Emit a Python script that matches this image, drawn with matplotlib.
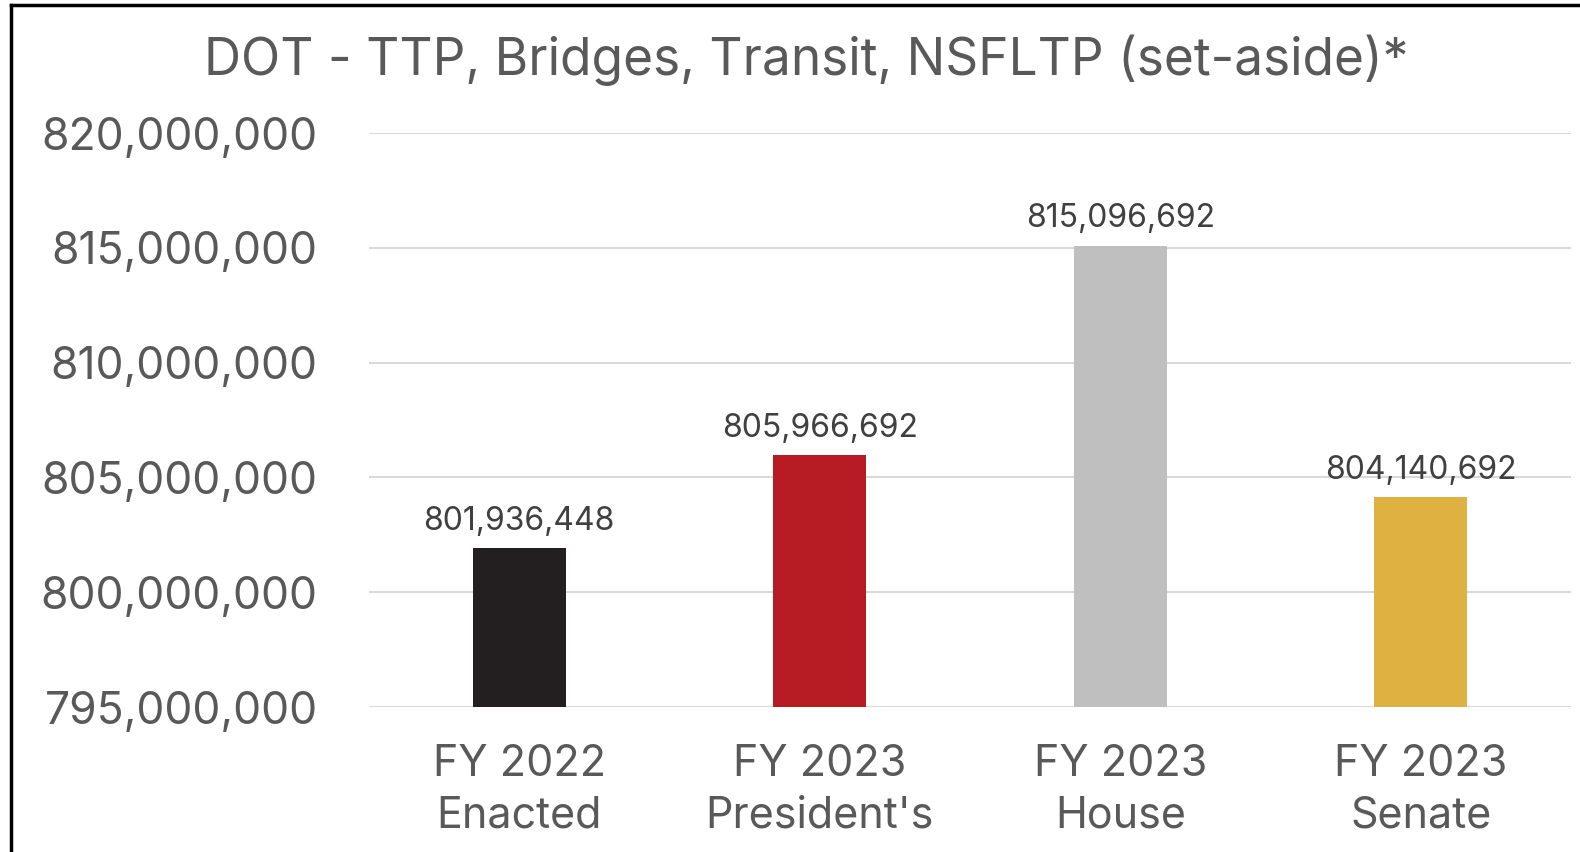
import matplotlib
matplotlib.use("Agg")
import matplotlib.pyplot as plt
from matplotlib.ticker import FuncFormatter, MultipleLocator
from matplotlib.lines import Line2D

categories = ["FY 2022\nEnacted", "FY 2023\nPresident's", "FY 2023\nHouse", "FY 2023\nSenate"]
values = [801936448, 805966692, 815096692, 804140692]
colors = ["#231F20", "#B71C25", "#BFBFBF", "#DFB140"]
title = "DOT - TTP, Bridges, Transit, NSFLTP (set-aside)*"

plt.rcParams['font.family'] = ['Inter', 'DejaVu Sans']
gray = "#595959"

fig = plt.figure(figsize=(15.8, 8.52), dpi=100)
ax = fig.add_axes([369/1580, 1 - 707/852, (1571-369)/1580, (707-133)/852])

x = range(len(categories))
bars = ax.bar(x, values, width=0.31, color=colors, zorder=3)
ax.set_ylim(795000000, 820000000)
ax.set_xlim(-0.5, 3.5)
ax.yaxis.set_major_locator(MultipleLocator(5000000))
ax.yaxis.set_major_formatter(FuncFormatter(lambda v, p: f"{int(v):,}"))
ax.grid(axis='y', color="#D9D9D9", linewidth=1.5, zorder=0)
for s in ax.spines.values():
    s.set_visible(False)
ax.tick_params(axis='both', length=0, labelcolor=gray)
ax.tick_params(axis='y', labelsize=32, pad=37)
ax.tick_params(axis='x', labelsize=31, pad=27)
ax.set_xticks(list(x))
ax.set_xticklabels(categories, linespacing=1.3)

for i, v in enumerate(values):
    ax.annotate(f"{v:,}", (i, v), xytext=(0, 8), textcoords="offset points",
                ha="center", va="bottom", fontsize=23, color="#404040")

fig.text(806/1580, 1 - 60/852, title, ha="center", va="center",
         fontsize=37, color=gray)

fig.add_artist(Line2D([11/1580, 11/1580], [0, 1 - 5/852], color="black", linewidth=2.5, transform=fig.transFigure))
fig.add_artist(Line2D([11/1580, 1], [1 - 5/852, 1 - 5/852], color="black", linewidth=2.5, transform=fig.transFigure))

fig.savefig("out.png", dpi=100)
